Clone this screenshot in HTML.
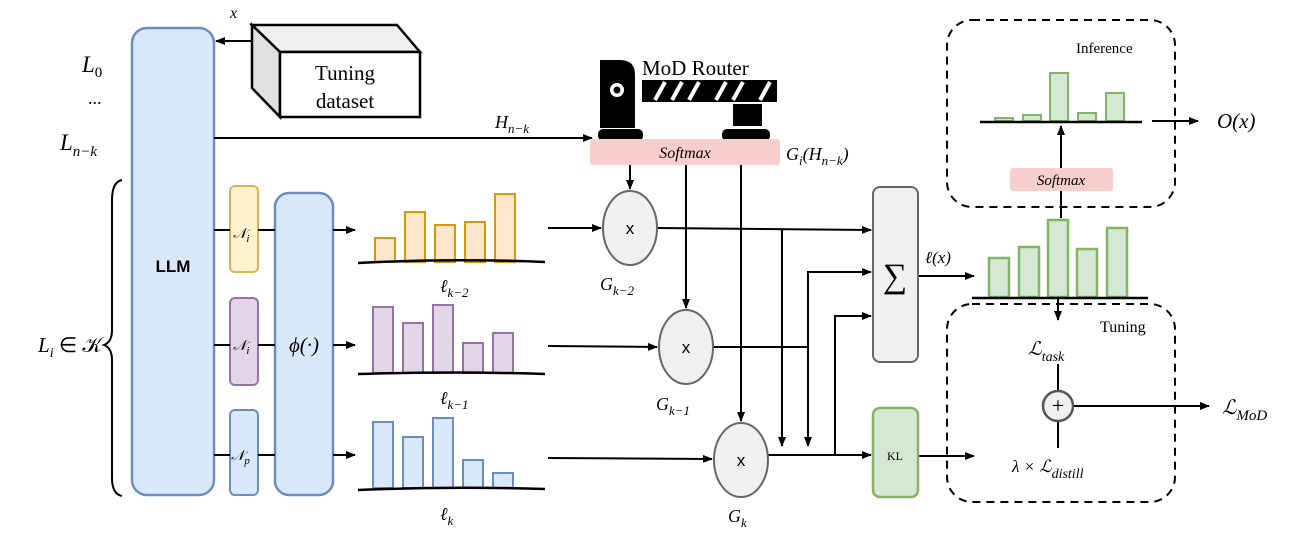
<!DOCTYPE html>
<html><head><meta charset="utf-8"><style>
html,body{margin:0;padding:0;background:#fff;}
svg{display:block;font-family:"Liberation Serif",serif;}
.m{font-style:italic;}
</style></head><body>
<svg width="1305" height="547" viewBox="0 0 1305 547" xmlns="http://www.w3.org/2000/svg">
<defs>
<marker id="a" markerWidth="10" markerHeight="8" refX="9" refY="4" orient="auto" markerUnits="userSpaceOnUse"><path d="M0,0 L10,4 L0,8 Z" fill="#000"/></marker>
</defs>
<rect x="132" y="28" width="82" height="467" rx="15" fill="#dae8fc" stroke="#6c8ebf" stroke-width="2.5"/>
<text x="173" y="272" font-size="17" font-family="Liberation Sans" text-anchor="middle" font-weight="bold">LLM</text>
<path d="M252,25 L397,25 L420,52 L280,52 Z" fill="#f0f0f0" stroke="#000" stroke-width="2.5"/>
<path d="M252,25 L280,52 L280,117 L252,88 Z" fill="#e0e0e0" stroke="#000" stroke-width="2.5"/>
<rect x="280" y="52" width="140" height="65" fill="#fff" stroke="#000" stroke-width="2.5"/>
<text x="345" y="80" font-size="21" text-anchor="middle">Tuning</text>
<text x="345" y="108" font-size="21" text-anchor="middle">dataset</text>
<line x1="252" y1="41" x2="216" y2="41" stroke="#000" stroke-width="2" marker-end="url(#a)"/>
<text x="230" y="18" font-size="16" class="m">x</text>
<text x="82" y="72" font-size="23" class="m">L<tspan font-size="15" font-style="normal" dy="5">0</tspan></text>
<text x="88" y="104" font-size="18">...</text>
<text x="60" y="150" font-size="23" class="m">L<tspan font-size="15" dy="6">n−k</tspan></text>
<path d="M122,180 Q112,182 112,200 L112,330 Q112,342 104,345 Q112,348 112,360 L112,478 Q112,494 122,496" fill="none" stroke="#000" stroke-width="2"/>
<text x="38" y="352" font-size="21" class="m">L<tspan font-size="14" dy="5">i</tspan><tspan dy="-5" font-style="normal"> ∈ 𝒦</tspan></text>
<line x1="214" y1="138" x2="592" y2="138" stroke="#000" stroke-width="2" marker-end="url(#a)"/>
<text x="495" y="128" font-size="18" class="m">H<tspan font-size="13" dy="5">n−k</tspan></text>
<rect x="230" y="186" width="28" height="86" rx="5" fill="#fff2cc" stroke="#d6b656" stroke-width="2"/>
<rect x="230" y="298" width="28" height="87" rx="5" fill="#e1d5e7" stroke="#9673a6" stroke-width="2"/>
<rect x="230" y="410" width="28" height="85" rx="5" fill="#dae8fc" stroke="#6c8ebf" stroke-width="2"/>
<text x="233" y="238" font-size="14" class="m">𝒩<tspan font-size="11" dy="4">i</tspan></text>
<text x="233" y="350" font-size="14" class="m">𝒩<tspan font-size="11" dy="4">i</tspan></text>
<text x="231" y="460" font-size="14" class="m">𝒩<tspan font-size="11" dy="4">p</tspan></text>
<rect x="275" y="193" width="58" height="302" rx="14" fill="#dae8fc" stroke="#6c8ebf" stroke-width="2.5"/>
<text x="304" y="352" font-size="21" text-anchor="middle" class="m">ϕ(·)</text>
<g stroke="#000" stroke-width="2">
<line x1="214" y1="230" x2="230" y2="230"/><line x1="258" y1="230" x2="275" y2="230"/>
<line x1="214" y1="345" x2="230" y2="345"/><line x1="258" y1="345" x2="275" y2="345"/>
<line x1="214" y1="455" x2="230" y2="455"/><line x1="258" y1="455" x2="275" y2="455"/>
<line x1="333" y1="230" x2="355" y2="230" marker-end="url(#a)"/>
<line x1="333" y1="345" x2="355" y2="345" marker-end="url(#a)"/>
<line x1="333" y1="455" x2="355" y2="455" marker-end="url(#a)"/>
</g>
<g fill="#ffe6cc" stroke="#d79b00" stroke-width="2">
<rect x="375" y="238" width="20" height="24"/><rect x="405" y="212" width="20" height="50"/><rect x="435" y="225" width="20" height="37"/><rect x="465" y="222" width="20" height="40"/><rect x="495" y="194" width="20" height="68"/>
</g>
<path d="M358,263 Q450,258 545,262" stroke="#000" stroke-width="2.5" fill="none"/>
<text x="440" y="292" font-size="18" class="m">ℓ<tspan font-size="13" dy="5">k−2</tspan></text>
<g fill="#e1d5e7" stroke="#9673a6" stroke-width="2">
<rect x="373" y="307" width="20" height="66"/><rect x="403" y="323" width="20" height="50"/><rect x="433" y="305" width="20" height="68"/><rect x="463" y="343" width="20" height="30"/><rect x="493" y="333" width="20" height="40"/>
</g>
<path d="M358,374 Q450,371 545,374" stroke="#000" stroke-width="2.5" fill="none"/>
<text x="440" y="404" font-size="18" class="m">ℓ<tspan font-size="13" dy="5">k−1</tspan></text>
<g fill="#dae8fc" stroke="#6c8ebf" stroke-width="2">
<rect x="373" y="422" width="20" height="66"/><rect x="403" y="437" width="20" height="51"/><rect x="433" y="418" width="20" height="70"/><rect x="463" y="460" width="20" height="28"/><rect x="493" y="473" width="20" height="15"/>
</g>
<path d="M358,490 Q450,486 545,489" stroke="#000" stroke-width="2.5" fill="none"/>
<text x="440" y="520" font-size="18" class="m">ℓ<tspan font-size="13" dy="5">k</tspan></text>
<path d="M600,128 L600,60 L620,60 Q635,60 635,75 L635,128 Z" fill="#000"/>
<circle cx="617" cy="90" r="7" fill="#fff"/><circle cx="617" cy="90" r="3.5" fill="#000"/>
<rect x="642" y="80" width="135" height="22" fill="#000"/>
<g stroke="#fff" stroke-width="4"><line x1="655" y1="100" x2="665" y2="82"/><line x1="672" y1="100" x2="682" y2="82"/><line x1="689" y1="100" x2="699" y2="82"/><line x1="716" y1="100" x2="726" y2="82"/><line x1="733" y1="100" x2="743" y2="82"/><line x1="760" y1="100" x2="770" y2="82"/></g>
<rect x="733" y="104" width="29" height="22" fill="#000"/>
<rect x="598" y="129" width="45" height="12" rx="5" fill="#000"/>
<rect x="722" y="129" width="48" height="12" rx="5" fill="#000"/>
<text x="642" y="75" font-size="21">MoD Router</text>
<rect x="590" y="139" width="190" height="26" rx="3" fill="#f8cecc"/>
<text x="685" y="158" font-size="16" text-anchor="middle" class="m">Softmax</text>
<text x="786" y="160" font-size="18" class="m">G<tspan font-size="13" dy="5">i</tspan><tspan dy="-5" font-style="italic">(H</tspan><tspan font-size="13" dy="5">n−k</tspan><tspan dy="-5">)</tspan></text>
<g stroke="#000" stroke-width="2" fill="none">
<line x1="630" y1="165" x2="630" y2="189" marker-end="url(#a)"/>
<line x1="686" y1="165" x2="686" y2="308" marker-end="url(#a)"/>
<line x1="741" y1="165" x2="741" y2="421" marker-end="url(#a)"/>
<line x1="548" y1="228" x2="601" y2="228" marker-end="url(#a)"/>
<line x1="548" y1="346" x2="657" y2="347" marker-end="url(#a)"/>
<line x1="548" y1="458" x2="712" y2="459" marker-end="url(#a)"/>
<line x1="657" y1="228" x2="871" y2="230" marker-end="url(#a)"/>
<polyline points="782,229 782,446" marker-end="url(#a)"/>
<polyline points="713,347 808,347"/>
<polyline points="808,446 808,272 871,272" marker-end="url(#a)"/>
<line x1="808" y1="347" x2="808" y2="446" marker-end="url(#a)"/>
<line x1="768" y1="455" x2="871" y2="455" marker-end="url(#a)"/>
<polyline points="835,455 835,316 871,316" marker-end="url(#a)"/>
<line x1="918" y1="276" x2="974" y2="276" marker-end="url(#a)"/>
<line x1="918" y1="456" x2="974" y2="456" marker-end="url(#a)"/>
</g>
<g fill="#f0f0f0" stroke="#666" stroke-width="2">
<ellipse cx="630" cy="228" rx="27" ry="37"/><ellipse cx="686" cy="347" rx="27" ry="37"/><ellipse cx="741" cy="460" rx="27" ry="37"/>
</g>
<g font-family="Liberation Sans" font-size="17" text-anchor="middle"><text x="630" y="234">x</text><text x="686" y="353">x</text><text x="741" y="466">x</text></g>
<text x="600" y="290" font-size="18" class="m">G<tspan font-size="13" dy="5">k−2</tspan></text>
<text x="656" y="410" font-size="18" class="m">G<tspan font-size="13" dy="5">k−1</tspan></text>
<text x="728" y="522" font-size="18" class="m">G<tspan font-size="13" dy="5">k</tspan></text>
<rect x="873" y="187" width="45" height="175" rx="7" fill="#f0f0f0" stroke="#666" stroke-width="2"/>
<text x="895" y="287" font-size="34" text-anchor="middle">∑</text>
<rect x="873" y="408" width="45" height="89" rx="7" fill="#d5e8d4" stroke="#82b366" stroke-width="2.5"/>
<text x="895" y="460" font-size="12" text-anchor="middle">KL</text>
<text x="925" y="263" font-size="17" class="m">ℓ(x)</text>
<g fill="#d5e8d4" stroke="#82b366" stroke-width="2.5">
<rect x="989" y="258" width="20" height="39"/><rect x="1019" y="247" width="20" height="50"/><rect x="1048" y="220" width="20" height="77"/><rect x="1077" y="249" width="20" height="48"/><rect x="1107" y="228" width="20" height="69"/>
</g>
<line x1="972" y1="298" x2="1148" y2="298" stroke="#000" stroke-width="2.5"/>
<rect x="947" y="20" width="228" height="187" rx="25" fill="none" stroke="#000" stroke-width="2" stroke-dasharray="8,6"/>
<text x="1076" y="53" font-size="15">Inference</text>
<g fill="#d5e8d4" stroke="#82b366" stroke-width="2">
<rect x="995" y="118" width="18" height="3"/><rect x="1023" y="115" width="18" height="6"/><rect x="1050" y="73" width="18" height="48"/><rect x="1078" y="113" width="18" height="8"/><rect x="1106" y="93" width="18" height="28"/>
</g>
<line x1="980" y1="122" x2="1142" y2="122" stroke="#000" stroke-width="2.5"/>
<rect x="1010" y="168" width="103" height="23" rx="3" fill="#f8cecc"/>
<text x="1061" y="185" font-size="15" text-anchor="middle" class="m">Softmax</text>
<g stroke="#000" stroke-width="2" fill="none">
<line x1="1061" y1="218" x2="1061" y2="191"/>
<line x1="1061" y1="168" x2="1061" y2="126" marker-end="url(#a)"/>
<line x1="1152" y1="121" x2="1198" y2="121" marker-end="url(#a)"/>
<line x1="1058" y1="299" x2="1058" y2="320" marker-end="url(#a)"/>
<line x1="1058" y1="364" x2="1058" y2="391"/>
<line x1="1058" y1="421" x2="1058" y2="448"/>
<line x1="1073" y1="406" x2="1209" y2="406" marker-end="url(#a)"/>
</g>
<text x="1217" y="128" font-size="21" class="m">O(x)</text>
<rect x="947" y="304" width="228" height="198" rx="25" fill="none" stroke="#000" stroke-width="2" stroke-dasharray="8,6"/>
<text x="1100" y="332" font-size="16">Tuning</text>
<text x="1028" y="355" font-size="19" class="m">ℒ<tspan font-size="14" dy="6">task</tspan></text>
<circle cx="1058" cy="406" r="15" fill="#f0f0f0" stroke="#555" stroke-width="2.5"/>
<text x="1058" y="413" font-size="22" text-anchor="middle">+</text>
<text x="1012" y="472" font-size="17" class="m">λ × ℒ<tspan font-size="14" dy="6">distill</tspan></text>
<text x="1222" y="414" font-size="20" class="m">ℒ<tspan font-size="15" dy="6">MoD</tspan></text>
</svg>
</body></html>
